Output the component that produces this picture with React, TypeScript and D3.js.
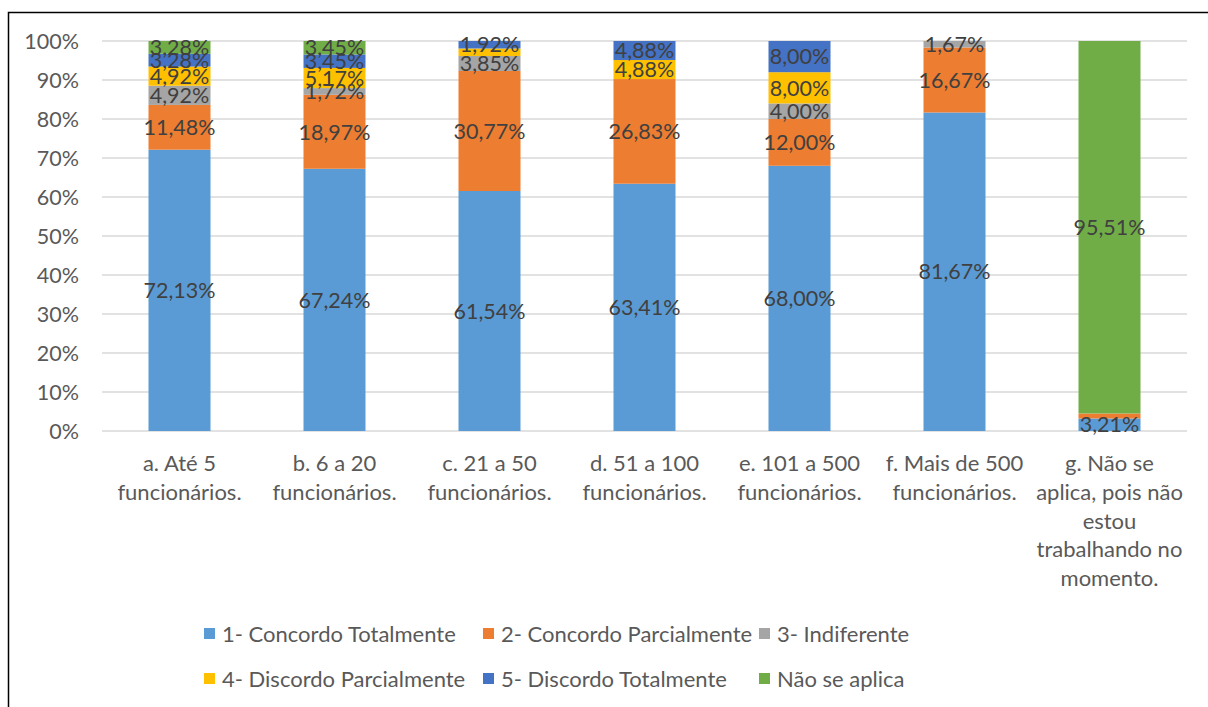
import React from "react";
import * as d3 from "d3";

// Categories (company size), line breaks mark where each axis label wraps
const categories = [
  "a. Até 5\nfuncionários.",
  "b. 6 a 20\nfuncionários.",
  "c. 21 a 50\nfuncionários.",
  "d. 51 a 100\nfuncionários.",
  "e. 101 a 500\nfuncionários.",
  "f. Mais de 500\nfuncionários.",
  "g. Não se\naplica, pois não\nestou\ntrabalhando no\nmomento.",
];

const seriesNames = [
  "1- Concordo Totalmente",
  "2- Concordo Parcialmente",
  "3- Indiferente",
  "4- Discordo Parcialmente",
  "5- Discordo Totalmente",
  "Não se aplica",
];

const concordoTotalmente = [72.13, 67.24, 61.54, 63.41, 68.0, 81.67, 3.21];
const concordoParcialmente = [11.48, 18.97, 30.77, 26.83, 12.0, 16.67, 1.28];
const indiferente = [4.92, 1.72, 3.85, 0, 4.0, 1.67, 0];
const discordoParcialmente = [4.92, 5.17, 1.92, 4.88, 8.0, 0, 0];
const discordoTotalmente = [3.28, 3.45, 1.92, 4.88, 8.0, 0, 0];
const naoSeAplica = [3.28, 3.45, 0, 0, 0, 0, 95.51];

// Segments whose data label is not printed: [series index, category index]
const hiddenLabels: [number, number][] = [
  [3, 2],
  [1, 6],
];

const yTicks = [0, 10, 20, 30, 40, 50, 60, 70, 80, 90, 100];

const colors = ["#5B9BD5", "#ED7D31", "#A5A5A5", "#FFC000", "#4472C4", "#70AD47"];

const FONT = "Lato, 'Open Sans', sans-serif";

export default function App() {
  const width = 1208;
  const height = 707;
  const plot = { left: 102, right: 1187, top: 41, bottom: 431 };

  const seriesValues = [
    concordoTotalmente,
    concordoParcialmente,
    indiferente,
    discordoParcialmente,
    discordoTotalmente,
    naoSeAplica,
  ];

  const rows = categories.map((c, i) => {
    const r: Record<string, number | string> = { cat: c };
    seriesNames.forEach((s, j) => (r[s] = seriesValues[j][i]));
    return r;
  });

  const stacked = d3.stack<Record<string, number | string>>().keys(seriesNames)(rows as any);

  const x = d3
    .scaleBand<string>()
    .domain(categories)
    .range([plot.left, plot.right])
    .paddingInner(0.6)
    .paddingOuter(0.3);

  const y = d3.scaleLinear().domain([0, 100]).range([plot.bottom, plot.top]);

  const fmt = (v: number) => v.toFixed(2).replace(".", ",") + "%";

  const isHidden = (s: number, c: number) =>
    hiddenLabels.some(([a, b]) => a === s && b === c);

  const legendCols = [204, 483, 759];
  const legendRows = [634, 679];

  return (
    <svg
      width={width}
      height={height}
      style={{ position: "absolute", left: 0, top: 0, background: "#fff" }}
      fontFamily={FONT}
    >
      <rect x={0} y={0} width={width} height={height} fill="#fff" />
      {/* chart frame */}
      <rect x={8.5} y={12.5} width={width + 20} height={height + 20} fill="none" stroke="#000" strokeWidth={1.5} />

      {/* gridlines and y axis labels */}
      {yTicks.map((t) => (
        <g key={t}>
          <line x1={plot.left} x2={plot.right} y1={y(t)} y2={y(t)} stroke="#D9D9D9" strokeWidth={1.5} />
          <text x={79} y={y(t)} dy="0.36em" textAnchor="end" fontSize={21.5} fill="#595959">
            {t}%
          </text>
        </g>
      ))}

      {/* stacked bars */}
      {stacked.map((layer, si) => (
        <g key={layer.key} fill={colors[si]}>
          {layer.map((d, ci) => {
            const h = y(d[0]) - y(d[1]);
            if (h <= 0) return null;
            return (
              <rect
                key={ci}
                x={x(categories[ci])}
                y={y(Math.min(d[1], 100))}
                width={x.bandwidth()}
                height={y(d[0]) - y(Math.min(d[1], 100))}
              />
            );
          })}
        </g>
      ))}

      {/* data labels */}
      {stacked.map((layer, si) => (
        <g key={"l" + layer.key}>
          {layer.map((d, ci) => {
            const v = seriesValues[si][ci];
            if (!v || isHidden(si, ci)) return null;
            return (
              <text
                key={ci}
                x={(x(categories[ci]) as number) + x.bandwidth() / 2}
                y={y((d[0] + d[1]) / 2)}
                dy="0.36em"
                textAnchor="middle"
                fontSize={21.5}
                fill="#404040"
              >
                {fmt(v)}
              </text>
            );
          })}
        </g>
      ))}

      {/* category labels */}
      {categories.map((c) => (
        <text
          key={c}
          x={(x(c) as number) + x.bandwidth() / 2}
          y={471}
          textAnchor="middle"
          fontSize={22}
          fill="#595959"
        >
          {c.split("\n").map((line, i) => (
            <tspan key={i} x={(x(c) as number) + x.bandwidth() / 2} dy={i === 0 ? 0 : 28.8}>
              {line}
            </tspan>
          ))}
        </text>
      ))}

      {/* legend */}
      {seriesNames.map((s, i) => {
        const lx = legendCols[i % 3];
        const ly = legendRows[Math.floor(i / 3)];
        return (
          <g key={s}>
            <rect x={lx} y={ly - 6} width={11} height={11} fill={colors[i]} />
            <text x={lx + 18} y={ly} dy="0.36em" fontSize={22} fill="#595959">
              {s}
            </text>
          </g>
        );
      })}
    </svg>
  );
}
